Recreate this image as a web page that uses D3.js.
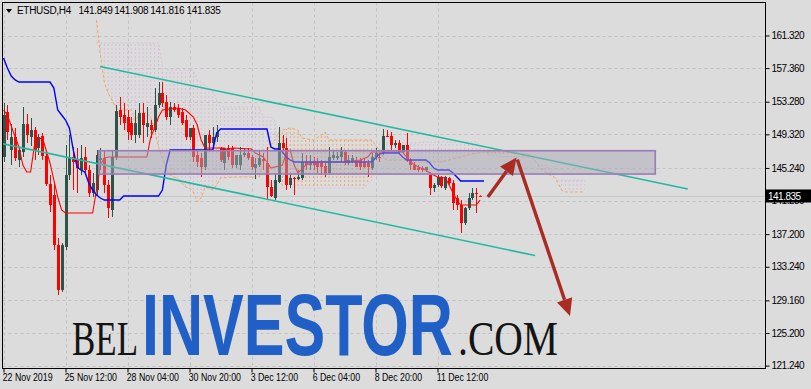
<!DOCTYPE html>
<html><head><meta charset="utf-8">
<script src="https://cdn.jsdelivr.net/npm/d3@7"></script>
<style>html,body{margin:0;padding:0;background:#dcdcdc;}svg{display:block;}</style>
</head><body><svg id="c" width="811" height="389"></svg>
<script>
// ---------- DATA ----------
const symbol = "ETHUSD,H4";
const lastOHLC = [141.849, 141.908, 141.816, 141.835];
const priceTicks = [161.32,157.36,153.28,149.32,145.24,141.28,137.2,133.24,129.16,125.2,121.24];
const timeLabels = ["22 Nov 2019","25 Nov 12:00","28 Nov 04:00","30 Nov 20:00","3 Dec 12:00","6 Dec 04:00","8 Dec 20:00","11 Dec 12:00"];
const timeLabelBars = [0,16,32,48,64,80,96,112];

const open = [146.57,152.03,147.42,148.99,146.20,147.17,150.57,148.99,149.84,147.66,
149.12,146.69,143.29,141.95,135.88,130.42,135.64,144.38,146.57,146.20,
144.99,146.57,144.99,142.19,142.56,146.20,146.44,143.17,140.13,146.57,
152.27,151.67,151.42,150.69,149.24,149.24,151.91,150.21,150.45,149.84,
152.88,154.34,153.24,151.42,152.64,152.52,152.03,151.06,148.99,150.09,
146.81,146.44,145.35,149.24,148.27,148.99,147.66,145.84,147.66,147.66,
145.59,145.59,146.81,147.05,146.57,145.23,145.59,146.32,145.84,142.92,
141.59,143.53,148.27,147.66,143.17,144.02,143.89,144.02,145.96,145.59,
145.96,145.96,145.84,145.47,144.62,146.44,146.44,146.57,147.17,145.84,
145.96,146.20,146.20,145.96,145.84,145.23,146.57,146.57,147.05,149.12,
149.12,148.02,148.27,147.17,148.02,146.20,145.59,145.23,145.23,144.99,
144.38,142.80,143.17,144.14,142.80,144.02,143.41,141.59,140.74,138.55,
140.37,141.59,142.19,141.849];
const high = [153.12,152.88,150.57,150.09,147.78,152.64,151.79,151.30,150.21,149.36,
149.48,147.42,144.38,143.41,136.73,136.12,148.02,149.24,147.78,147.66,
148.02,147.78,145.59,144.62,147.42,147.66,147.42,143.77,147.42,152.88,
153.85,153.12,152.27,151.42,152.27,153.12,153.12,152.64,151.06,154.94,
155.67,155.67,154.09,153.24,153.12,153.00,152.52,151.67,150.09,150.45,
147.42,147.05,149.24,149.84,150.21,150.45,147.78,147.66,148.02,147.90,
146.81,147.78,147.66,147.66,146.81,146.44,147.42,147.05,147.78,143.77,
144.62,150.21,149.24,148.87,144.62,144.14,144.99,147.05,146.81,146.81,
146.57,146.44,146.20,145.84,147.78,147.42,147.17,147.78,147.42,146.81,
146.81,146.57,146.44,146.44,146.20,147.05,147.66,147.05,149.97,149.84,
149.60,148.63,148.63,148.02,149.48,146.44,145.96,145.59,145.47,145.35,
144.74,143.41,144.38,144.26,144.26,144.14,143.77,141.95,141.34,140.49,
142.19,142.80,142.80,141.908];
const low = [145.96,148.63,145.59,146.08,145.35,146.57,148.27,147.90,146.20,146.81,
146.20,143.04,139.89,135.27,129.81,130.17,135.27,143.77,142.56,142.19,
144.38,144.38,141.71,141.71,141.95,144.99,142.19,139.16,139.28,146.20,
150.45,149.84,148.63,148.63,148.27,148.87,148.27,148.99,148.87,149.60,
152.52,152.64,151.06,150.45,152.03,151.30,150.45,148.63,148.63,145.96,
145.35,144.14,144.99,147.17,147.78,148.39,145.96,144.99,146.20,145.23,
145.23,144.99,146.57,146.20,144.99,143.89,145.35,144.99,141.34,141.71,
141.34,143.41,147.42,142.56,142.80,141.95,143.77,143.77,144.99,144.99,
144.99,144.62,144.38,144.14,144.38,146.20,146.20,145.96,145.59,145.59,
145.84,145.35,144.99,145.23,144.14,144.99,146.20,145.96,146.81,148.99,
147.42,147.66,147.05,147.05,145.96,144.99,144.99,144.74,144.74,144.74,
141.95,142.32,142.92,142.80,142.56,143.17,140.13,140.13,137.34,138.31,
140.13,141.34,139.77,141.816];
const close = [151.67,149.60,148.99,146.44,147.42,150.57,149.24,149.84,147.42,148.99,
146.69,143.29,140.74,135.88,130.42,135.88,144.38,146.57,145.96,145.23,
146.44,144.99,142.19,143.41,146.81,146.44,143.17,140.37,146.57,152.15,
151.42,150.69,149.60,149.24,150.69,151.91,150.45,150.69,149.84,152.88,
154.34,153.12,151.42,152.64,152.27,151.67,150.69,148.99,150.09,146.57,
145.96,145.35,149.24,148.27,148.99,149.60,146.20,147.66,146.57,145.59,
146.81,146.81,147.05,146.44,145.35,145.72,146.44,146.08,142.92,141.83,
143.77,148.27,147.66,143.17,144.02,143.89,144.14,145.96,145.59,145.96,
145.59,145.35,145.35,144.62,146.57,146.81,146.69,147.42,145.84,146.20,
146.44,145.35,145.35,145.35,145.35,146.57,147.05,146.44,149.12,148.99,
148.02,148.27,147.17,148.02,146.20,145.59,144.99,144.99,144.99,145.35,
142.80,143.17,144.14,143.04,144.14,143.41,140.98,140.74,138.55,140.37,
141.59,142.19,142.07,141.835];

const tenkanBars = [0,1,3,4,5,6,7,8,9,10,11,12,13,14,15,16,17,23,24,25,26,27,28,37,38,39,40,41,45,47,49,50,51,52,57,58,59,64,65,67,68,69,72,73,74,75,76,78,80,88,92,94,95,103,104,105,107,109,110,112,114,115,116,117,118,122,123];
const tenkan = [152.27,151.67,148.99,147.78,145.59,144.74,144.74,148.02,148.63,148.99,
147.42,145.84,143.77,141.71,140.13,139.77,139.77,139.77,142.56,145.59,
146.44,146.57,146.57,146.57,148.99,150.09,151.42,152.27,152.52,152.27,
151.42,150.45,148.63,147.66,147.66,147.42,147.66,147.54,147.05,146.57,
145.96,145.23,145.59,147.17,147.42,145.59,144.62,145.59,145.96,145.96,
146.20,146.57,147.17,147.17,146.57,145.96,145.35,144.99,144.62,144.14,
144.02,143.17,142.19,141.34,140.74,140.74,141.34];

const kijunBars = [0,1,2,3,4,12,13,14,15,16,17,18,19,20,21,22,23,24,25,26,30,31,40,41,42,43,54,55,56,68,69,70,71,72,73,74,75,95,96,97,98,102,103,104,109,110,111,112,115,116,117,118,124];
const kijun = [158.59,157.37,156.40,155.92,155.67,155.67,154.94,152.27,151.67,151.06,
150.09,147.42,145.35,144.99,144.74,143.41,142.56,141.95,141.59,141.34,
141.34,141.83,141.83,142.56,145.59,147.42,147.42,149.48,149.97,149.97,
147.78,147.54,147.54,147.17,146.57,146.20,145.96,145.96,146.44,146.93,
147.05,147.05,146.57,146.20,146.20,145.84,145.23,144.99,144.99,144.62,
144.14,143.65,143.65];

const cloudBars = [24,25,26,27,28,29,30,33,34,35,37,38,39,40,41,42,43,44,45,46,47,48,49,50,51,52,53,54,55,56,60,66,67,68,69,70,71,72,74,76,77,80,82,83,84,93,95,96,97,98,99,105,106,109,113,118,120,122,123,124,125,130,136,137,138,139,140,141,142,143,144,145,150];
const spanA = [163.20,158.95,155.67,154.34,153.49,152.52,152.27,152.27,150.69,151.91,
151.91,151.30,149.84,147.78,146.44,144.99,144.38,144.14,144.02,143.41,
142.92,142.80,142.32,141.10,141.59,142.92,142.80,142.56,143.17,144.02,
144.14,144.14,146.81,147.42,148.02,148.63,149.60,149.84,150.09,149.84,
148.87,148.63,149.24,149.60,148.63,148.63,148.63,148.02,147.42,146.44,
146.20,146.20,145.96,145.96,145.96,146.57,146.81,147.05,147.05,147.17,
147.17,147.17,146.81,146.20,145.59,144.99,144.74,144.38,144.14,143.53,
142.56,142.32,142.32];
const spanB = [160.41,160.41,160.41,160.41,160.41,160.41,160.41,160.41,160.41,160.41,
160.41,160.41,160.41,160.41,157.49,157.13,157.13,157.13,157.13,157.13,
157.13,157.13,157.13,155.92,155.67,155.31,154.94,154.70,153.49,152.64,
152.64,152.64,151.42,151.42,151.42,151.06,146.20,142.80,142.80,142.80,
142.80,142.80,142.80,142.80,142.80,142.80,143.77,148.02,148.27,148.27,
148.27,148.27,148.27,148.39,148.39,148.39,148.39,148.39,148.02,147.42,
146.81,146.57,146.57,146.20,145.59,145.59,145.59,144.99,144.38,143.77,
143.77,143.77,143.77];

const channelUpper = [[24.9,157.55],[176.6,142.68]];
const channelLower = [[-0.4,148.20],[137.2,134.60]];
const zoneBars = [24.6,168.2];
const zonePrices = [147.33,144.50];
const arrowUp = [[125.0,141.71],[132.4,146.50]];
const arrowDown = [[132.6,146.25],[146.2,127.26]];
const watermark = ["BEL","INVESTOR",".COM"];

// ---------- SCALES ----------
const svg = d3.select("#c");
const P = {l:2.5, t:2.5, r:765.5, b:368.5};
const x = d3.scaleLinear().domain([0,100]).range([3.5, 3.5+387.5]);
const y = d3.scaleLinear().domain([121.24,161.32]).range([365.6,35.5]);
const FONT = "'Liberation Sans', Arial, sans-serif";

svg.append("rect").attr("width",811).attr("height",389).attr("fill","#dcdcdc");
const defs = svg.append("defs");
defs.append("clipPath").attr("id","plotclip").append("rect")
  .attr("x",P.l).attr("y",P.t).attr("width",P.r-P.l).attr("height",P.b-P.t);

function hatch(id,color){
  const p = defs.append("pattern").attr("id",id).attr("patternUnits","userSpaceOnUse")
    .attr("width",3.875).attr("height",4).attr("x",x(0)-0.5).attr("y",0);
  p.append("rect").attr("x",0).attr("y",0).attr("width",1).attr("height",2).attr("fill",color);
}
hatch("hOrange","#f0a868");
hatch("hThistle","#d6bcd8");

const plot = svg.append("g").attr("clip-path","url(#plotclip)");

// grid
const grid = plot.append("g").attr("stroke","#c2c2c2").attr("stroke-dasharray","3,3").attr("stroke-width",1);
priceTicks.forEach(p=>{
  const yy = Math.round(y(p))+0.5;
  grid.append("line").attr("x1",P.l).attr("x2",P.r).attr("y1",yy).attr("y2",yy);
});
timeLabelBars.forEach(b=>{
  const xx = Math.round(x(b))+0.5;
  grid.append("line").attr("x1",xx).attr("x2",xx).attr("y1",P.t).attr("y2",P.b);
});

// watermark: each word scaled horizontally to its width in the reference
function fitWord(txt, x0, w, size, family, weight, color){
  const t = plot.append("text").attr("x",0).attr("y",0).attr("font-family",family)
    .attr("font-size",size).attr("font-weight",weight).attr("fill",color).text(txt);
  const nat = t.node().getComputedTextLength() || w;
  t.attr("transform",`translate(${x0},355) scale(${w/nat},1)`);
}
fitWord(watermark[0], 72, 66, 49, "'Liberation Serif','Times New Roman',serif", "normal", "#141414");
fitWord(watermark[1], 142, 311, 88, "'Liberation Sans Narrow','Liberation Sans',Arial,sans-serif", "bold", "#1f5fc6");
fitWord(watermark[2], 458, 100, 49, "'Liberation Serif','Times New Roman',serif", "normal", "#141414");

// cloud
const cloud = cloudBars.map((b,k)=>({b, a:spanA[k], s:spanB[k]}));
const between = d3.area().x(d=>x(d.b)).y0(d=>y(d.a)).y1(d=>y(d.s));
defs.append("clipPath").attr("id","belowA").append("path")
  .attr("d", d3.area().x(d=>x(d.b)).y0(d=>y(d.a)).y1(P.b+20)(cloud));
defs.append("clipPath").attr("id","belowB").append("path")
  .attr("d", d3.area().x(d=>x(d.b)).y0(d=>y(d.s)).y1(P.b+20)(cloud));
plot.append("g").attr("clip-path","url(#belowA)").append("path").attr("d",between(cloud)).attr("fill","url(#hOrange)");
plot.append("g").attr("clip-path","url(#belowB)").append("path").attr("d",between(cloud)).attr("fill","url(#hThistle)");
plot.append("path").attr("d", d3.line().x(d=>x(d.b)).y(d=>y(d.a))(cloud))
  .attr("fill","none").attr("stroke","#f4a460").attr("stroke-width",1).attr("stroke-dasharray","3,2");
plot.append("path").attr("d", d3.line().x(d=>x(d.b)).y(d=>y(d.s))(cloud))
  .attr("fill","none").attr("stroke","#d8bfd8").attr("stroke-width",1).attr("stroke-dasharray","2,2");

// bid line
const bidY = Math.round(y(lastOHLC[3]))+0.5;
plot.append("line").attr("x1",P.l).attr("x2",P.r).attr("y1",bidY).attr("y2",bidY).attr("stroke","#c8c8c8");

// candles
const BULL = "#2f5249", BEAR = "#ff0000";
const cg = plot.append("g");
open.forEach((o,i)=>{
  const c = close[i], up = c >= o, col = up ? BULL : BEAR;
  const cx = Math.round(x(i));
  cg.append("line").attr("x1",cx+0.5).attr("x2",cx+0.5).attr("y1",y(high[i])).attr("y2",y(low[i]))
    .attr("stroke",col).attr("stroke-width",1);
  const y1 = y(Math.max(o,c)), y2 = y(Math.min(o,c));
  cg.append("rect").attr("x",cx-1).attr("y",y1).attr("width",3).attr("height",Math.max(1,y2-y1)).attr("fill",col);
});

// tenkan / kijun
const tk = tenkanBars.map((b,k)=>[b,tenkan[k]]);
const kj = kijunBars.map((b,k)=>[b,kijun[k]]);
const ln = d3.line().x(d=>x(d[0])).y(d=>y(d[1]));
plot.append("path").attr("d",ln(tk)).attr("fill","none").attr("stroke","#ff0000").attr("stroke-width",1.1);
plot.append("path").attr("d",ln(kj)).attr("fill","none").attr("stroke","#0000ff").attr("stroke-width",1.4);

// channel lines
[channelUpper, channelLower].forEach(ch=>{
  plot.append("path").attr("d",ln(ch)).attr("fill","none").attr("stroke","#22b9a2").attr("stroke-width",1.6);
});

// zone rectangle
plot.append("rect").attr("x",x(zoneBars[0])).attr("y",y(zonePrices[0]))
  .attr("width",x(zoneBars[1])-x(zoneBars[0])).attr("height",y(zonePrices[1])-y(zonePrices[0]))
  .attr("fill","rgb(168,168,180)").attr("fill-opacity",0.5).attr("stroke","#9a7bb8").attr("stroke-width",1.6);

// arrows
function arrow(pts){
  const x1=x(pts[0][0]), y1=y(pts[0][1]), x2=x(pts[1][0]), y2=y(pts[1][1]);
  const a=Math.atan2(y2-y1,x2-x1), L=17, Wd=8;
  const bx=x2-L*Math.cos(a), by=y2-L*Math.sin(a);
  plot.append("line").attr("x1",x1).attr("y1",y1).attr("x2",bx).attr("y2",by)
    .attr("stroke","#a82c22").attr("stroke-width",3.4);
  plot.append("path").attr("d",`M${x2},${y2}L${bx+Wd*Math.sin(a)},${by-Wd*Math.cos(a)}L${bx-Wd*Math.sin(a)},${by+Wd*Math.cos(a)}Z`)
    .attr("fill","#a82c22");
}
arrow(arrowUp); arrow(arrowDown);

// frame
svg.append("rect").attr("x",P.l).attr("y",P.t).attr("width",P.r-P.l).attr("height",P.b-P.t)
  .attr("fill","none").attr("stroke","#000").attr("stroke-width",1);

// right axis
const ra = svg.append("g").attr("transform",`translate(${P.r},0)`)
  .call(d3.axisRight(y).tickValues(priceTicks).tickSize(4).tickPadding(2).tickFormat(d3.format(".3f")));
ra.select(".domain").remove();
ra.selectAll("line").attr("stroke","#000");
ra.selectAll("text").attr("font-family",FONT).attr("font-size",10).attr("fill","#000").attr("letter-spacing","-0.5");

// bottom axis (labels condensed horizontally, as in the terminal font)
const ba = svg.append("g").attr("transform",`translate(0,${P.b})`)
  .call(d3.axisBottom(x).tickValues(timeLabelBars).tickSize(4).tickPadding(1).tickFormat((d,i)=>timeLabels[i]));
ba.select(".domain").remove();
ba.selectAll("line").attr("stroke","#000");
ba.selectAll("text").attr("font-family",FONT).attr("font-size",10).attr("fill","#000")
  .attr("text-anchor","start").attr("x",-1.5).attr("transform","scale(0.88,1)");

// price label box
const by0 = y(lastOHLC[3]);
svg.append("rect").attr("x",766).attr("y",by0-6.5).attr("width",45).attr("height",13).attr("fill","#000");
svg.append("text").attr("x",768).attr("y",by0+4).attr("font-family",FONT).attr("font-size",10)
  .attr("fill","#fff").attr("letter-spacing","-0.5").text(d3.format(".3f")(lastOHLC[3]));

// header
svg.append("path").attr("d","M6,9L12,9L9,13Z").attr("fill","#000");
const hdr = svg.append("text").attr("y",14).attr("font-family",FONT).attr("font-size",10).attr("fill","#000").attr("letter-spacing","-0.3");
hdr.append("tspan").attr("x",17).text(symbol);
const hx = [78.5,114.3,150.3,186.5];
lastOHLC.forEach((v,k)=>hdr.append("tspan").attr("x",hx[k]).text(d3.format(".3f")(v)));
</script></body></html>
